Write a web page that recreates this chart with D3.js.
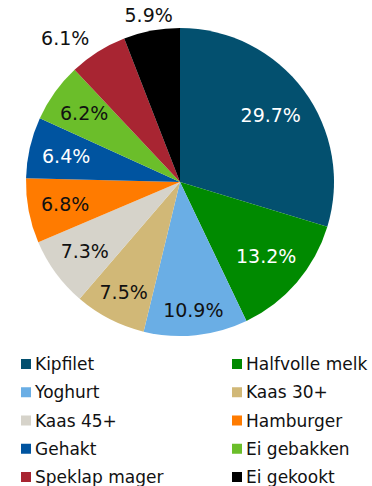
<!DOCTYPE html>
<html>
<head>
<meta charset="utf-8">
<script src="https://cdn.jsdelivr.net/npm/d3@7"></script>
<style>
  html, body { margin: 0; padding: 0; background: #fff; }
  svg { display: block; font-family: "DejaVu Sans", Verdana, sans-serif; }
</style>
</head>
<body>
<svg id="chart" width="372" height="486"></svg>
<script>
// Share of each product (percent), clockwise from 12 o'clock
const categories = ["Kipfilet", "Halfvolle melk", "Yoghurt", "Kaas 30+", "Kaas 45+",
                    "Hamburger", "Gehakt", "Ei gebakken", "Speklap mager", "Ei gekookt"];
const shares = [29.7, 13.2, 10.9, 7.5, 7.3, 6.8, 6.4, 6.2, 6.1, 5.9];
const colors = ["#03506F", "#008A00", "#6AAEE5", "#D1B877", "#D6D3CA",
                "#FF7B00", "#0054A0", "#6BBE2A", "#A82532", "#000000"];
const labelColors = ["#fff", "#fff", "#111", "#111", "#111",
                     "#111", "#fff", "#111", "#111", "#111"];
const outsideLabels = ["Speklap mager", "Ei gekookt"];

const data = categories.map((c, i) => ({ name: c, value: shares[i], color: colors[i], text: labelColors[i] }));

const svg = d3.select("#chart");
const cx = 180, cy = 182, r = 154;

const pie = d3.pie().sort(null).value(d => d.value);
const arcs = pie(data);
const arc = d3.arc().innerRadius(0).outerRadius(r);

const g = svg.append("g").attr("transform", `translate(${cx},${cy})`);

g.selectAll("path.slice")
  .data(arcs)
  .enter().append("path")
  .attr("class", "slice")
  .attr("d", arc)
  .attr("fill", d => d.data.color);

// Push an inside label outward along the slice bisector until its
// farthest box corner sits a fixed inset from the rim.
function insideDistance(a, w, h, limit) {
  const s = Math.sin(a), c = -Math.cos(a);
  const far = d => Math.hypot(Math.abs(d * s) + w / 2, Math.abs(d * c) + h / 2);
  let lo = 0, hi = r;
  for (let k = 0; k < 40; k++) {
    const m = (lo + hi) / 2;
    if (far(m) > limit) hi = m; else lo = m;
  }
  return lo;
}

const fontSize = 19;
g.selectAll("text.val")
  .data(arcs)
  .enter().append("text")
  .attr("class", "val")
  .attr("font-size", fontSize)
  .attr("dy", "0.36em")
  .text(d => d.data.value.toFixed(1) + "%")
  .each(function (d) {
    const t = d3.select(this);
    const mid = (d.startAngle + d.endAngle) / 2;
    if (outsideLabels.includes(d.data.name)) {
      const rr = r + 16;
      const x = Math.sin(mid) * rr, y = -Math.cos(mid) * rr;
      const s = Math.sin(mid);
      t.attr("x", x).attr("y", y)
       .attr("text-anchor", Math.abs(s) > 0.3 ? (s < 0 ? "end" : "start") : "middle")
       .attr("fill", "#111");
    } else {
      const w = this.getComputedTextLength();
      const h = fontSize * 0.76;
      const dist = insideDistance(mid, w, h, r - 12);
      t.attr("x", Math.sin(mid) * dist)
       .attr("y", -Math.cos(mid) * dist)
       .attr("text-anchor", "middle")
       .attr("fill", d.data.text);
    }
  });

// Legend, two columns
const colX = [21, 232];
const rowY = d3.scalePoint().domain(d3.range(5)).range([364, 477]);

const leg = svg.selectAll("g.leg")
  .data(data)
  .enter().append("g")
  .attr("class", "leg")
  .attr("transform", (d, i) => `translate(${colX[i % 2]},${rowY(Math.floor(i / 2))})`);

leg.append("rect")
  .attr("x", 0).attr("y", -5)
  .attr("width", 10).attr("height", 10)
  .attr("fill", d => d.color);

leg.append("text")
  .attr("x", 14).attr("dy", "0.36em")
  .attr("font-size", 17)
  .attr("fill", "#111")
  .text(d => d.name);
</script>
</body>
</html>
